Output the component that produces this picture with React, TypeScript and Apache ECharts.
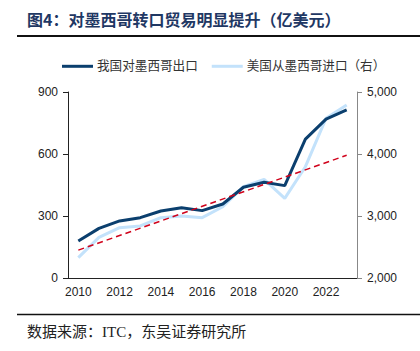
import React, { useEffect, useRef } from "react";
import * as echarts from "echarts";

const years = ["2010", "2011", "2012", "2013", "2014", "2015", "2016", "2017", "2018", "2019", "2020", "2021", "2022", "2023"];
const chinaExports = [179, 240, 276, 292, 324, 340, 326, 358, 439, 463, 447, 672, 769, 813];
const usImports = [2328, 2656, 2812, 2839, 2973, 3000, 2973, 3150, 3473, 3592, 3285, 3795, 4576, 4790];
const trendStart = 135;
const trendEnd = 594;
const trendData = years.map((_, i) => (i === 0 ? trendStart : i === years.length - 1 ? trendEnd : null));

const leftTicks = { min: 0, max: 900, interval: 300 };
const rightTicks = { min: 2000, max: 5000, interval: 1000 };

const nameExports = "我国对墨西哥出口";
const nameImports = "美国从墨西哥进口（右）";
const titleText = "图4：对墨西哥转口贸易明显提升（亿美元）";
const sourceText = "数据来源：ITC，东吴证券研究所";

export default function App() {
  const ref = useRef<HTMLDivElement>(null);
  useEffect(() => {
    if (!ref.current) return;
    const chart = echarts.init(ref.current, null, { renderer: "svg" });
    const axisLabelStyle = { color: "#222", fontSize: 12, fontFamily: "Arial, Liberation Sans, sans-serif" };
    chart.setOption({
      animation: false,
      backgroundColor: "#fff",
      graphic: [
        {
          type: "text",
          left: 27,
          top: 11,
          style: { text: titleText, fontSize: 16, fontWeight: "bold", fill: "#1f3864", fontFamily: "Noto Sans CJK SC" },
        },
        { type: "line", shape: { x1: 17, y1: 36, x2: 420, y2: 36 }, style: { stroke: "#111", lineWidth: 2 } },
        { type: "line", shape: { x1: 17, y1: 314.5, x2: 420, y2: 314.5 }, style: { stroke: "#111", lineWidth: 1.5 } },
        {
          type: "text",
          left: 27,
          top: 324,
          style: { text: sourceText, fontSize: 15, fill: "#222", fontFamily: "Liberation Serif, Noto Sans CJK SC" },
        },
      ],
      legend: {
        left: 57,
        top: 55,
        itemWidth: 31,
        itemHeight: 3,
        itemGap: 14,
        icon: "rect",
        textStyle: { fontSize: 12.6, color: "#333", fontFamily: "Liberation Serif, Noto Sans CJK SC", padding: [0, 0, 0, -1] },
        data: [nameExports, nameImports],
      },
      grid: { left: 68, right: 63, top: 92, bottom: 73, containLabel: false },
      xAxis: {
        type: "category",
        data: years,
        boundaryGap: true,
        axisLine: { lineStyle: { color: "#222", width: 1 } },
        axisTick: { interval: 1, length: 5, lineStyle: { color: "#222" } },
        axisLabel: { ...axisLabelStyle, interval: 1, margin: 8 },
        splitLine: { show: false },
      },
      yAxis: [
        {
          type: "value",
          position: "left",
          ...leftTicks,
          axisLine: { show: true, lineStyle: { color: "#222", width: 1 } },
          axisTick: { show: true, length: 5, lineStyle: { color: "#222" } },
          axisLabel: { ...axisLabelStyle, margin: 10 },
          splitLine: { show: false },
        },
        {
          type: "value",
          position: "right",
          ...rightTicks,
          axisLine: { show: true, lineStyle: { color: "#888", width: 1 } },
          axisTick: { show: true, length: 5, lineStyle: { color: "#888" } },
          axisLabel: {
            ...axisLabelStyle,
            margin: 10,
            formatter: (v: number) => v.toLocaleString("en-US"),
          },
          splitLine: { show: false },
        },
      ],
      series: [
        {
          name: nameImports,
          type: "line",
          yAxisIndex: 1,
          data: usImports,
          symbol: "none",
          color: "#c3e2fb",
          lineStyle: { width: 3, color: "#c3e2fb" },
          z: 2,
        },
        {
          name: nameExports,
          type: "line",
          yAxisIndex: 0,
          data: chinaExports,
          symbol: "none",
          color: "#0b3f6e",
          lineStyle: { width: 3, color: "#0b3f6e" },
          z: 3,
        },
        {
          name: "trend",
          type: "line",
          yAxisIndex: 0,
          data: trendData,
          connectNulls: true,
          symbol: "none",
          color: "#c00000",
          lineStyle: { width: 1.5, color: "#d0021b", type: [6, 4] },
          z: 4,
        },
      ],
    });
    return () => chart.dispose();
  }, []);
  return <div ref={ref} style={{ position: "fixed", left: 0, top: 0, width: 420, height: 351 }} />;
}
